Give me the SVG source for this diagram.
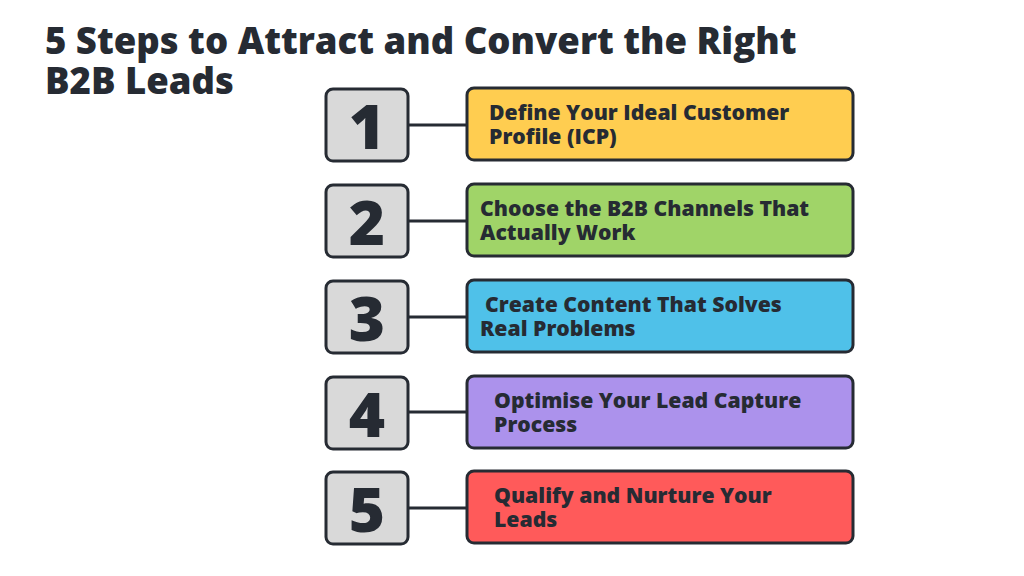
<svg xmlns="http://www.w3.org/2000/svg" width="1024" height="576" viewBox="0 0 1024 576">
<style>
.t{font-family:"Open Sans","Liberation Sans",sans-serif;font-weight:800;fill:#262B33}
.title{font-size:36.5px}
.lab{font-size:21.2px}
.num{font-size:62px;text-anchor:middle}
.nb{fill:#D9D9D9;stroke:#262B33;stroke-width:3}
.tb{stroke:#262B33;stroke-width:3}
.c{stroke:#262B33;stroke-width:3}
</style>
<rect width="1024" height="576" fill="#fff"/>
<text class="t title" x="45" y="54">5 Steps to Attract and Convert the Right</text>
<text class="t title" x="45" y="94">B2B Leads</text>
<g id="connectors">
<line class="c" x1="408" y1="125" x2="467" y2="125"/>
<line class="c" x1="408" y1="221" x2="467" y2="221"/>
<line class="c" x1="408" y1="317" x2="467" y2="317"/>
<line class="c" x1="408" y1="412" x2="467" y2="412"/>
<line class="c" x1="408" y1="508" x2="467" y2="508"/>
</g>
<g id="n1"><rect class="nb" x="326" y="89" width="82" height="72" rx="7"/><text class="t num" x="367" y="149">1</text></g>
<g id="s1"><rect class="tb" fill="#FFCD50" x="467" y="88" width="386" height="72" rx="7"/><text class="t lab" x="489" y="120">Define Your Ideal Customer</text><text class="t lab" x="489" y="144">Profile (ICP)</text></g>
<g id="n2"><rect class="nb" x="326" y="185" width="82" height="72" rx="7"/><text class="t num" x="367" y="245">2</text></g>
<g id="s2"><rect class="tb" fill="#A0D468" x="467" y="184" width="386" height="72" rx="7"/><text class="t lab" x="480" y="216">Choose the B2B Channels That</text><text class="t lab" x="480" y="240">Actually Work</text></g>
<g id="n3"><rect class="nb" x="326" y="281" width="82" height="72" rx="7"/><text class="t num" x="367" y="341">3</text></g>
<g id="s3"><rect class="tb" fill="#4FC1E9" x="467" y="280" width="386" height="72" rx="7"/><text class="t lab" x="485" y="312">Create Content That Solves</text><text class="t lab" x="480" y="336">Real Problems</text></g>
<g id="n4"><rect class="nb" x="326" y="377" width="82" height="72" rx="7"/><text class="t num" x="367" y="437">4</text></g>
<g id="s4"><rect class="tb" fill="#AC92EC" x="467" y="376" width="386" height="72" rx="7"/><text class="t lab" x="494" y="408">Optimise Your Lead Capture</text><text class="t lab" x="494" y="432">Process</text></g>
<g id="n5"><rect class="nb" x="326" y="472" width="82" height="72" rx="7"/><text class="t num" x="367" y="532">5</text></g>
<g id="s5"><rect class="tb" fill="#FF5A5A" x="467" y="471" width="386" height="72" rx="7"/><text class="t lab" x="494" y="503">Qualify and Nurture Your</text><text class="t lab" x="494" y="527">Leads</text></g>
</svg>
